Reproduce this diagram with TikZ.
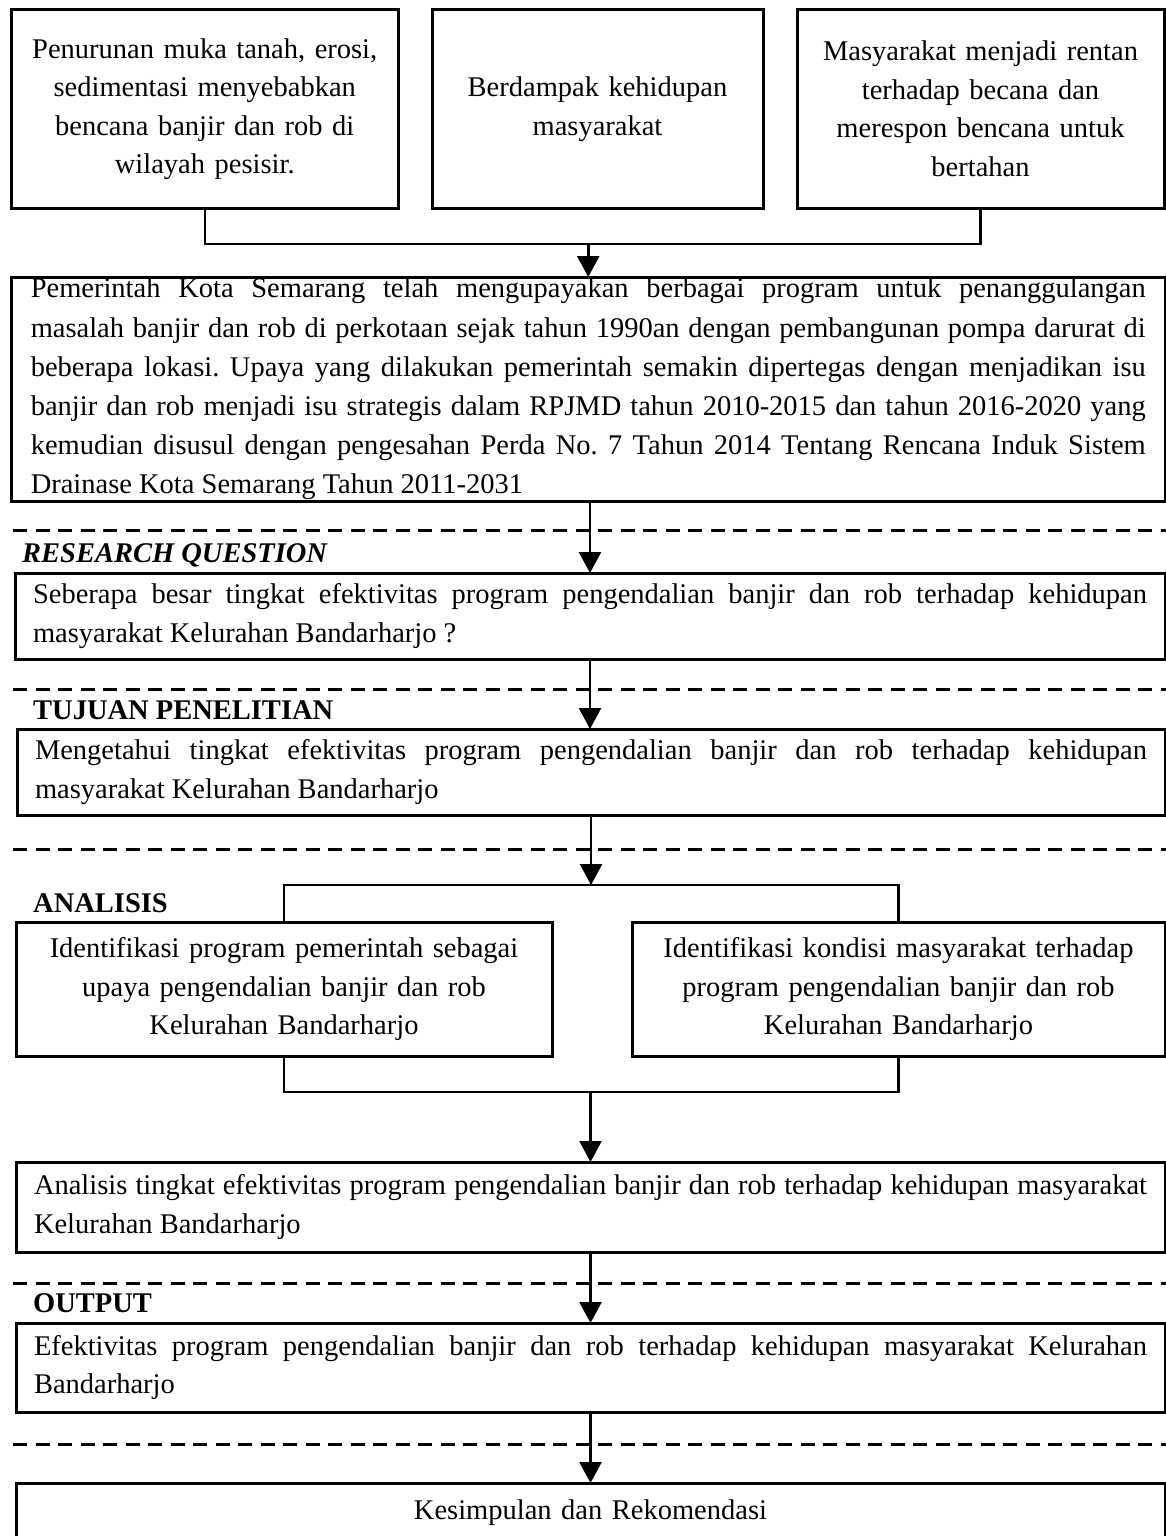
\documentclass[tikz,border=0pt]{standalone}
\usepackage{fontspec}
\setmainfont{Liberation Serif}
\usetikzlibrary{arrows.meta}
\frenchspacing

\begin{document}
\begin{tikzpicture}[x=1pt, y=-1pt,
  box/.style={draw, line width=3pt, anchor=north west, inner sep=0pt, outer sep=0pt,
    font=\fontsize{28.5}{38.5}\selectfont},
  sidebox/.style={box, align=center},
  wide/.style={box, align=justify},
  link/.style={line width=2.5pt},
  flow/.style={link, -{Triangle[width=22pt,length=21pt]}},
  sepline/.style={line width=3pt, dash pattern=on 14pt off 8.5pt},
  heading/.style={anchor=west, inner sep=0pt, font=\fontsize{28.5}{34}\selectfont\bfseries}]
  \useasboundingbox (0,0) rectangle (1166,1536);

  % Three problem boxes on top
  \node[sidebox, minimum width=386.5pt, minimum height=198pt, text width=370pt] (cause) at (11.5,10)
    {Penurunan muka tanah, erosi,\\ sedimentasi menyebabkan\\ bencana banjir dan rob di\\ wilayah pesisir.};
  \node[sidebox, minimum width=331pt, minimum height=198pt, text width=315pt] (impact) at (432,10)
    {Berdampak kehidupan\\ masyarakat};
  \node[sidebox, minimum width=367pt, minimum height=198pt, text width=350pt] (risk) at (797,10)
    {Masyarakat menjadi rentan\\ terhadap becana dan\\ merespon bencana untuk\\ bertahan};

  % Background box
  \node[wide, minimum width=1153.5pt, minimum height=224pt, text width=1115pt,
    font=\fontsize{28.5}{39.2}\selectfont] (policy) at (11.5,277)
    {Pemerintah Kota Semarang telah mengupayakan berbagai program untuk penanggulangan\linebreak
     masalah banjir dan rob di perkotaan sejak tahun 1990an dengan pembangunan pompa darurat di\linebreak
     beberapa lokasi. Upaya yang dilakukan pemerintah semakin dipertegas dengan menjadikan isu\linebreak
     banjir dan rob menjadi isu strategis dalam RPJMD tahun 2010-2015 dan tahun 2016-2020 yang\linebreak
     kemudian disusul dengan pengesahan Perda No. 7 Tahun 2014 Tentang Rencana Induk Sistem\linebreak
     Drainase Kota Semarang Tahun 2011-2031};

  % Dashed separators
  \foreach \y in {530,689,849,1283,1444}
    \draw[sepline] (13,\y) -- (1166,\y);

  % Research question
  \node[heading, font=\fontsize{28.5}{34}\selectfont\bfseries\itshape] (qlabel) at (22,555) {RESEARCH QUESTION};
  \node[wide, minimum width=1150pt, minimum height=86pt, text width=1114pt] (question) at (15,573)
    {Seberapa besar tingkat efektivitas program pengendalian banjir dan rob terhadap kehidupan\linebreak
     masyarakat Kelurahan Bandarharjo ?};

  % Aim
  \node[heading] (aimlabel) at (33,710) {TUJUAN PENELITIAN};
  \node[wide, minimum width=1148pt, minimum height=86pt, text width=1112pt] (aim) at (17,729)
    {Mengetahui tingkat efektivitas program pengendalian banjir dan rob terhadap kehidupan\linebreak
     masyarakat Kelurahan Bandarharjo};

  % Analysis
  \node[heading] (analabel) at (33,903) {ANALISIS};
  \node[sidebox, minimum width=536pt, minimum height=134pt, text width=510pt] (govt) at (16,922)
    {Identifikasi program pemerintah sebagai\\ upaya pengendalian banjir dan rob\\ Kelurahan Bandarharjo};
  \node[sidebox, minimum width=533pt, minimum height=134pt, text width=510pt] (people) at (632,922)
    {Identifikasi kondisi masyarakat terhadap\\ program pengendalian banjir dan rob\\ Kelurahan Bandarharjo};
  \node[wide, minimum width=1149pt, minimum height=90pt, text width=1113pt] (analysis) at (16,1162)
    {Analisis tingkat efektivitas program pengendalian banjir dan rob terhadap kehidupan masyarakat\linebreak
     Kelurahan Bandarharjo};

  % Output and conclusion
  \node[heading] (outlabel) at (33,1303) {OUTPUT};
  \node[wide, minimum width=1149pt, minimum height=89pt, text width=1113pt] (result) at (16,1323)
    {Efektivitas program pengendalian banjir dan rob terhadap kehidupan masyarakat Kelurahan\linebreak
     Bandarharjo};
  \node[sidebox, minimum width=1149pt, minimum height=60pt, text width=1113pt] (closing) at (16,1483)
    {Kesimpulan dan Rekomendasi};

  % Connectors
  \draw[link] (cause.south) -- ++(0,36) coordinate (jtop) -| (risk.south);
  \draw[flow] (jtop -| policy.north) -- (policy.north);
  \draw[flow] (question.north |- policy.south) -- (question.north);
  \draw[flow] (question.south) -- (question.south |- aim.north);
  \draw[link] (govt.north) -- ++(0,-37) coordinate (jmid) -| (people.north);
  \draw[flow] (aim.south) -- (aim.south |- jmid);
  \draw[link] (govt.south) -- ++(0,36) coordinate (jlow) -| (people.south);
  \draw[flow] (jlow -| analysis.north) -- (analysis.north);
  \draw[flow] (analysis.south) -- (result.north);
  \draw[flow] (result.south) -- (closing.north);
\end{tikzpicture}
\end{document}
